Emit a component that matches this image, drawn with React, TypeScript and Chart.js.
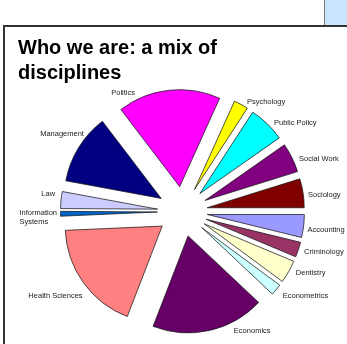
import React, { useEffect, useRef } from "react";
import { Chart, registerables } from "chart.js";

Chart.register(...registerables);

const categories: (string | string[])[] = [
  "Accounting",
  "Criminology",
  "Dentistry",
  "Econometrics",
  "Economics",
  "Health Sciences",
  ["Information", "Systems"],
  "Law",
  "Management",
  "Politics",
  "Psychology",
  "Public Policy",
  "Social Work",
  "Sociology",
];

const shares = [3.8, 2.5, 3.8, 1.9, 18.8, 18.4, 0.8, 2.8, 11.7, 17.1, 2.4, 6.1, 4.9, 4.8];

const sliceColors = [
  "#9999FF",
  "#993366",
  "#FFFFCC",
  "#CCFFFF",
  "#660066",
  "#FF8080",
  "#0066CC",
  "#CCCCFF",
  "#000080",
  "#FF00FF",
  "#FFFF00",
  "#00FFFF",
  "#800080",
  "#800000",
];

const titleLines = ["Who we are: a mix of", "disciplines"];

// layout tweaks for the outside labels (dx, dy in px)
const labelNudges: [number, number][] = [
  [-2, 0], [0, -3], [2, -5], [2, -1], [23, -8], [4, 7], [2.5, 0.5],
  [0, -8.5], [10.5, -14], [-33, 6], [3, 0], [2.6, 0.6], [1.6, 0.8], [-1, 0],
];

const EXPLODE = 25;
const LABEL_DIST = 128;

const explodePlugin = {
  id: "explodeSlices",
  afterDatasetsUpdate(chart: any) {
    const meta = chart.getDatasetMeta(0);
    const ca = chart.chartArea;
    const cx = (ca.left + ca.right) / 2;
    const cy = (ca.top + ca.bottom) / 2;
    meta.data.forEach((arc: any) => {
      const mid = (arc.startAngle + arc.endAngle) / 2;
      arc.x = cx + EXPLODE * Math.cos(mid);
      arc.y = cy + EXPLODE * Math.sin(mid);
    });
  },
};

const labelPlugin = {
  id: "outsideLabels",
  afterDatasetsDraw(chart: any) {
    const ctx = chart.ctx;
    const meta = chart.getDatasetMeta(0);
    const ca = chart.chartArea;
    const cx = (ca.left + ca.right) / 2;
    const cy = (ca.top + ca.bottom) / 2 + 3;
    const labels = chart.data.labels;
    ctx.save();
    ctx.font = '7.5px "Liberation Sans", Arial, sans-serif';
    ctx.fillStyle = "#1a1a1a";
    ctx.textBaseline = "middle";
    meta.data.forEach((arc: any, i: number) => {
      const mid = (arc.startAngle + arc.endAngle) / 2;
      const c = Math.cos(mid);
      const s = Math.sin(mid);
      const nd = labelNudges[i] || [0, 0];
      const ax = cx + LABEL_DIST * c + nd[0];
      const ay = cy + LABEL_DIST * s + nd[1];
      const lab = labels[i];
      const lines: string[] = Array.isArray(lab) ? lab : [lab];
      const lh = 9;
      const maxW = Math.max(...lines.map((l) => ctx.measureText(l).width));
      const x0 = c >= 0 ? ax : ax - maxW;
      ctx.textAlign = "left";
      lines.forEach((l, k) => {
        const y = ay + (k - (lines.length - 1) / 2) * lh;
        ctx.fillText(l, x0, y);
      });
    });
    ctx.restore();
  },
};

export default function App() {
  const ref = useRef<HTMLCanvasElement | null>(null);
  useEffect(() => {
    if (!ref.current) return;
    const chart = new Chart(ref.current, {
      type: "pie",
      data: {
        labels: categories as any,
        datasets: [
          {
            data: shares,
            backgroundColor: sliceColors,
            borderColor: "#1a1a1a",
            borderWidth: 0.75,
          },
        ],
      },
      options: {
        responsive: false,
        animation: false,
        rotation: 90,
        radius: 97,
        layout: { padding: { left: 18, right: 0, top: 30, bottom: 7 } },
        plugins: {
          legend: { display: false },
          tooltip: { enabled: false },
          title: {
            display: true,
            text: titleLines,
            align: "start",
            color: "#000",
            font: { family: '"Liberation Sans", Arial, sans-serif', size: 20, weight: "bold", lineHeight: 1.25 },
            padding: { top: 6, bottom: 0 },
          },
        },
      },
      plugins: [explodePlugin, labelPlugin],
    });
    return () => chart.destroy();
  }, []);

  return (
    <div style={{ position: "fixed", left: 0, top: 0, width: 347, height: 344, background: "#fff", overflow: "hidden" }}>
      <div style={{ position: "absolute", left: 324, top: 0, width: 30, height: 25, background: "#cce5ff", borderLeft: "1px solid #777", boxSizing: "border-box" }} />
      <div style={{ position: "absolute", left: 3, top: 25, width: 400, height: 400, borderLeft: "2px solid #333", borderTop: "2px solid #333" }} />
      <canvas ref={ref} width={347} height={344} style={{ position: "absolute", left: 0, top: 0, width: 347, height: 344 }} />
    </div>
  );
}
